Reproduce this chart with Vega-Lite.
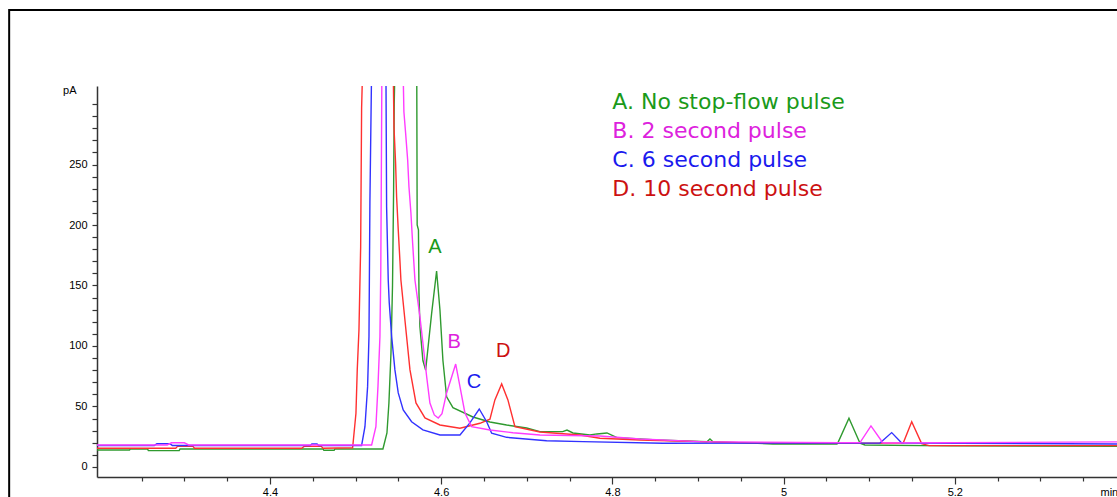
{
  "$schema": "https://vega.github.io/schema/vega-lite/v6.json",
  "width": 1020,
  "height": 391,
  "autosize": {"type": "none"},
  "padding": {"left": 97, "top": 86, "right": 0, "bottom": 20},
  "background": "white",
  "config": {"view": {"stroke": null}},
  "datasets": {
    "traces": [
      {"series": "A", "t": 4.198, "v": 14.0}, {"series": "A", "t": 4.236, "v": 14.0}, {"series": "A", "t": 4.237, "v": 14.9}, {"series": "A", "t": 4.257, "v": 14.9}, {"series": "A", "t": 4.258, "v": 13.5}, {"series": "A", "t": 4.294, "v": 13.5}, {"series": "A", "t": 4.295, "v": 14.9}, {"series": "A", "t": 4.462, "v": 14.9}, {"series": "A", "t": 4.463, "v": 13.8}, {"series": "A", "t": 4.475, "v": 13.8}, {"series": "A", "t": 4.476, "v": 14.9}, {"series": "A", "t": 4.532, "v": 14.9}, {"series": "A", "t": 4.5367, "v": 28.1}, {"series": "A", "t": 4.539, "v": 52.9}, {"series": "A", "t": 4.5414, "v": 94}, {"series": "A", "t": 4.5432, "v": 150}, {"series": "A", "t": 4.5445, "v": 230}, {"series": "A", "t": 4.5452, "v": 300}, {"series": "A", "t": 4.546, "v": 330}, {"series": "A", "t": 4.559, "v": 500}, {"series": "A", "t": 4.5715, "v": 330}, {"series": "A", "t": 4.572, "v": 200}, {"series": "A", "t": 4.5735, "v": 196}, {"series": "A", "t": 4.5741, "v": 144}, {"series": "A", "t": 4.5752, "v": 116}, {"series": "A", "t": 4.5787, "v": 88}, {"series": "A", "t": 4.5819, "v": 80}, {"series": "A", "t": 4.5889, "v": 127}, {"series": "A", "t": 4.5947, "v": 162}, {"series": "A", "t": 4.5986, "v": 130}, {"series": "A", "t": 4.6021, "v": 88}, {"series": "A", "t": 4.6064, "v": 58}, {"series": "A", "t": 4.6138, "v": 49}, {"series": "A", "t": 4.6371, "v": 41.3}, {"series": "A", "t": 4.657, "v": 37.2}, {"series": "A", "t": 4.6765, "v": 34.7}, {"series": "A", "t": 4.6999, "v": 32.2}, {"series": "A", "t": 4.7154, "v": 29.2}, {"series": "A", "t": 4.742, "v": 29.2}, {"series": "A", "t": 4.747, "v": 30.5}, {"series": "A", "t": 4.754, "v": 28.1}, {"series": "A", "t": 4.7738, "v": 26.4}, {"series": "A", "t": 4.782, "v": 27.3}, {"series": "A", "t": 4.7937, "v": 28.1}, {"series": "A", "t": 4.8054, "v": 24.2}, {"series": "A", "t": 4.8322, "v": 23.1}, {"series": "A", "t": 4.8521, "v": 22.3}, {"series": "A", "t": 4.9105, "v": 20.9}, {"series": "A", "t": 4.914, "v": 23.1}, {"series": "A", "t": 4.9175, "v": 20.9}, {"series": "A", "t": 4.9876, "v": 19}, {"series": "A", "t": 5.0624, "v": 19}, {"series": "A", "t": 5.0636, "v": 20.1}, {"series": "A", "t": 5.0764, "v": 40.2}, {"series": "A", "t": 5.0893, "v": 19.6}, {"series": "A", "t": 5.095, "v": 18.2}, {"series": "A", "t": 5.1944, "v": 17.4}, {"series": "A", "t": 5.3895, "v": 17.0},

      {"series": "D", "t": 4.198, "v": 15.5}, {"series": "D", "t": 4.29, "v": 15.5}, {"series": "D", "t": 4.292, "v": 17}, {"series": "D", "t": 4.31, "v": 17}, {"series": "D", "t": 4.312, "v": 15.5}, {"series": "D", "t": 4.437, "v": 15.5}, {"series": "D", "t": 4.44, "v": 17}, {"series": "D", "t": 4.46, "v": 17}, {"series": "D", "t": 4.462, "v": 15.5}, {"series": "D", "t": 4.4966, "v": 15.9}, {"series": "D", "t": 4.5005, "v": 44.4}, {"series": "D", "t": 4.502, "v": 80.2}, {"series": "D", "t": 4.504, "v": 113.2}, {"series": "D", "t": 4.506, "v": 182.1}, {"series": "D", "t": 4.5071, "v": 296.7}, {"series": "D", "t": 4.5083, "v": 330}, {"series": "D", "t": 4.526, "v": 500}, {"series": "D", "t": 4.544, "v": 330}, {"series": "D", "t": 4.5449, "v": 281}, {"series": "D", "t": 4.5468, "v": 251}, {"series": "D", "t": 4.548, "v": 223}, {"series": "D", "t": 4.5499, "v": 196}, {"series": "D", "t": 4.5519, "v": 170}, {"series": "D", "t": 4.553, "v": 154.5}, {"series": "D", "t": 4.5557, "v": 135.5}, {"series": "D", "t": 4.5597, "v": 107.4}, {"series": "D", "t": 4.5636, "v": 80.2}, {"series": "D", "t": 4.5706, "v": 52.9}, {"series": "D", "t": 4.5811, "v": 40.5}, {"series": "D", "t": 4.5986, "v": 34.7}, {"series": "D", "t": 4.622, "v": 32}, {"series": "D", "t": 4.6453, "v": 36.1}, {"series": "D", "t": 4.657, "v": 39.5}, {"series": "D", "t": 4.6628, "v": 55.4}, {"series": "D", "t": 4.6707, "v": 68.6}, {"series": "D", "t": 4.678, "v": 55.4}, {"series": "D", "t": 4.6862, "v": 33.3}, {"series": "D", "t": 4.7154, "v": 28.9}, {"series": "D", "t": 4.7621, "v": 26.4}, {"series": "D", "t": 4.7855, "v": 23.7}, {"series": "D", "t": 4.8322, "v": 22.3}, {"series": "D", "t": 4.9105, "v": 20.7}, {"series": "D", "t": 4.9607, "v": 19.8}, {"series": "D", "t": 5.0659, "v": 19.6}, {"series": "D", "t": 5.1398, "v": 19.8}, {"series": "D", "t": 5.1497, "v": 37.4}, {"series": "D", "t": 5.1613, "v": 19.3}, {"series": "D", "t": 5.17, "v": 17.6}, {"series": "D", "t": 5.3895, "v": 17.6},

      {"series": "C", "t": 4.198, "v": 17.8}, {"series": "C", "t": 4.265, "v": 17.8}, {"series": "C", "t": 4.268, "v": 19.2}, {"series": "C", "t": 4.283, "v": 19.2}, {"series": "C", "t": 4.286, "v": 17.8}, {"series": "C", "t": 4.447, "v": 17.8}, {"series": "C", "t": 4.449, "v": 19}, {"series": "C", "t": 4.455, "v": 19}, {"series": "C", "t": 4.457, "v": 17.8}, {"series": "C", "t": 4.5071, "v": 17.8}, {"series": "C", "t": 4.511, "v": 33.3}, {"series": "C", "t": 4.5141, "v": 66.4}, {"series": "C", "t": 4.5157, "v": 107.7}, {"series": "C", "t": 4.5168, "v": 219}, {"series": "C", "t": 4.5188, "v": 330}, {"series": "C", "t": 4.527, "v": 500}, {"series": "C", "t": 4.5355, "v": 330}, {"series": "C", "t": 4.5363, "v": 215}, {"series": "C", "t": 4.5382, "v": 154.5}, {"series": "C", "t": 4.5394, "v": 135.5}, {"series": "C", "t": 4.5422, "v": 107.7}, {"series": "C", "t": 4.546, "v": 80.2}, {"series": "C", "t": 4.5499, "v": 61.2}, {"series": "C", "t": 4.5557, "v": 47.1}, {"series": "C", "t": 4.5655, "v": 37.4}, {"series": "C", "t": 4.5787, "v": 30.6}, {"series": "C", "t": 4.5986, "v": 26.4}, {"series": "C", "t": 4.622, "v": 26.4}, {"series": "C", "t": 4.6336, "v": 36.4}, {"series": "C", "t": 4.6445, "v": 47.9}, {"series": "C", "t": 4.6532, "v": 37.4}, {"series": "C", "t": 4.659, "v": 27.9}, {"series": "C", "t": 4.6765, "v": 24.5}, {"series": "C", "t": 4.7232, "v": 21.7}, {"series": "C", "t": 4.7657, "v": 20.9}, {"series": "C", "t": 4.8591, "v": 19.6}, {"series": "C", "t": 5.1126, "v": 19.8}, {"series": "C", "t": 5.1263, "v": 28.4}, {"series": "C", "t": 5.138, "v": 19.8}, {"series": "C", "t": 5.3895, "v": 19.0},

      {"series": "B", "t": 4.198, "v": 18.2}, {"series": "B", "t": 4.28, "v": 18.2}, {"series": "B", "t": 4.285, "v": 20}, {"series": "B", "t": 4.3, "v": 20}, {"series": "B", "t": 4.305, "v": 18.2}, {"series": "B", "t": 4.5188, "v": 18.2}, {"series": "B", "t": 4.5238, "v": 33.3}, {"series": "B", "t": 4.5262, "v": 66.4}, {"series": "B", "t": 4.5285, "v": 107.7}, {"series": "B", "t": 4.5295, "v": 163}, {"series": "B", "t": 4.53, "v": 223}, {"series": "B", "t": 4.5308, "v": 330}, {"series": "B", "t": 4.543, "v": 500}, {"series": "B", "t": 4.5555, "v": 330}, {"series": "B", "t": 4.5565, "v": 293.6}, {"series": "B", "t": 4.5585, "v": 276}, {"series": "B", "t": 4.5609, "v": 253.7}, {"series": "B", "t": 4.5624, "v": 231.6}, {"series": "B", "t": 4.5647, "v": 209.9}, {"series": "B", "t": 4.5667, "v": 185.1}, {"series": "B", "t": 4.5694, "v": 154.5}, {"series": "B", "t": 4.5752, "v": 124.2}, {"series": "B", "t": 4.5787, "v": 102.5}, {"series": "B", "t": 4.5831, "v": 74.6}, {"series": "B", "t": 4.5869, "v": 52.9}, {"series": "B", "t": 4.592, "v": 43}, {"series": "B", "t": 4.5966, "v": 40.5}, {"series": "B", "t": 4.601, "v": 44}, {"series": "B", "t": 4.6064, "v": 61.2}, {"series": "B", "t": 4.617, "v": 85.1}, {"series": "B", "t": 4.622, "v": 66.4}, {"series": "B", "t": 4.6278, "v": 44.6}, {"series": "B", "t": 4.6356, "v": 33.3}, {"series": "B", "t": 4.657, "v": 30.6}, {"series": "B", "t": 4.6839, "v": 28.3}, {"series": "B", "t": 4.7154, "v": 26.4}, {"series": "B", "t": 4.7855, "v": 25.6}, {"series": "B", "t": 4.8322, "v": 23.1}, {"series": "B", "t": 4.9023, "v": 20.9}, {"series": "B", "t": 5.0659, "v": 20.1}, {"series": "B", "t": 5.0893, "v": 20.1}, {"series": "B", "t": 5.1021, "v": 33.9}, {"series": "B", "t": 5.1161, "v": 19.8}, {"series": "B", "t": 5.3895, "v": 20.7}
    ],
    "peaks": [
      {"series": "A", "label": "A", "t": 4.5928, "v": 177.1},
      {"series": "B", "label": "B", "t": 4.6153, "v": 98.1},
      {"series": "C", "label": "C", "t": 4.6383, "v": 65},
      {"series": "D", "label": "D", "t": 4.6726, "v": 91.2}
    ],
    "legend": [
      {"series": "A", "label": "A. No stop-flow pulse", "t": 4.8, "v": 296.3},
      {"series": "B", "label": "B. 2 second pulse", "t": 4.8, "v": 271.6},
      {"series": "C", "label": "C. 6 second pulse", "t": 4.8, "v": 247.7},
      {"series": "D", "label": "D. 10 second pulse", "t": 4.8, "v": 224}
    ]
  },
  "layer": [
    {
      "data": {"name": "traces"},
      "mark": {"type": "line", "strokeWidth": 1.4, "clip": true, "interpolate": "linear"},
      "encoding": {
        "x": {
          "field": "t", "type": "quantitative", "title": "min",
          "scale": {"domain": [4.198, 5.3895], "nice": false, "zero": false},
          "axis": {
            "values": [4.25, 4.3, 4.35, 4.4, 4.45, 4.5, 4.55, 4.6, 4.65, 4.7, 4.75, 4.8, 4.85, 4.9, 4.95, 5, 5.05, 5.1, 5.15, 5.2, 5.25, 5.3, 5.35],
            "labelExpr": "indexof([4.4, 4.6, 4.8, 5, 5.2], datum.value) >= 0 ? format(datum.value, '~g') : ''",
            "tickSize": {"condition": {"test": "indexof([4.4, 4.6, 4.8, 5, 5.2], datum.value) >= 0", "value": 7}, "value": 4},
            "grid": false, "labelOverlap": false, "labelFlush": false,
            "domainColor": "#333333", "domainWidth": 1.5, "tickColor": "#333333", "tickWidth": 1.2,
            "labelFont": "Liberation Sans", "labelFontSize": 11, "labelColor": "#000000", "labelPadding": 2,
            "titleX": 1003, "titleY": 15, "titleAlign": "left", "titleBaseline": "middle",
            "titleFont": "Liberation Sans", "titleFontSize": 11, "titleFontWeight": "normal", "titleColor": "#000000"
          }
        },
        "y": {
          "field": "v", "type": "quantitative", "title": "pA",
          "scale": {"domain": [-8.3, 314.9], "nice": false, "zero": false},
          "axis": {
            "values": [0, 10, 20, 30, 40, 50, 60, 70, 80, 90, 100, 110, 120, 130, 140, 150, 160, 170, 180, 190, 200, 210, 220, 230, 240, 250, 260, 270, 280, 290, 300],
            "labelExpr": "(datum.value % 50 == 0 && datum.value <= 250) ? datum.label : ''",
            "grid": false, "labelOverlap": false, "labelFlush": false, "tickSize": 5,
            "domainColor": "#333333", "domainWidth": 1.5, "tickColor": "#333333", "tickWidth": 1.2,
            "labelFont": "Liberation Sans", "labelFontSize": 11, "labelColor": "#000000", "labelPadding": 5,
            "titleAngle": 0, "titleAlign": "right", "titleBaseline": "middle", "titleX": -21, "titleY": 4,
            "titleFont": "Liberation Sans", "titleFontSize": 11, "titleFontWeight": "normal", "titleColor": "#000000"
          }
        },
        "color": {
          "field": "series", "type": "nominal",
          "scale": {"domain": ["A", "D", "C", "B"], "range": ["#2f9a2f", "#ff3030", "#3232ff", "#ff3cff"]},
          "legend": null
        }
      }
    },
    {
      "data": {"name": "peaks"},
      "mark": {"type": "text", "font": "Liberation Sans", "fontSize": 20, "align": "center", "baseline": "alphabetic"},
      "encoding": {
        "x": {
          "field": "t", "type": "quantitative", "title": "min",
          "axis": {
            "values": [4.25, 4.3, 4.35, 4.4, 4.45, 4.5, 4.55, 4.6, 4.65, 4.7, 4.75, 4.8, 4.85, 4.9, 4.95, 5, 5.05, 5.1, 5.15, 5.2, 5.25, 5.3, 5.35],
            "labelExpr": "indexof([4.4, 4.6, 4.8, 5, 5.2], datum.value) >= 0 ? format(datum.value, '~g') : ''",
            "tickSize": {"condition": {"test": "indexof([4.4, 4.6, 4.8, 5, 5.2], datum.value) >= 0", "value": 7}, "value": 4},
            "grid": false, "labelOverlap": false, "labelFlush": false,
            "domainColor": "#333333", "domainWidth": 1.5, "tickColor": "#333333", "tickWidth": 1.2,
            "labelFont": "Liberation Sans", "labelFontSize": 11, "labelColor": "#000000", "labelPadding": 2,
            "titleX": 1003, "titleY": 15, "titleAlign": "left", "titleBaseline": "middle",
            "titleFont": "Liberation Sans", "titleFontSize": 11, "titleFontWeight": "normal", "titleColor": "#000000"
          }
        },
        "y": {
          "field": "v", "type": "quantitative", "title": "pA",
          "axis": {
            "values": [0, 10, 20, 30, 40, 50, 60, 70, 80, 90, 100, 110, 120, 130, 140, 150, 160, 170, 180, 190, 200, 210, 220, 230, 240, 250, 260, 270, 280, 290, 300],
            "labelExpr": "(datum.value % 50 == 0 && datum.value <= 250) ? datum.label : ''",
            "grid": false, "labelOverlap": false, "labelFlush": false, "tickSize": 5,
            "domainColor": "#333333", "domainWidth": 1.5, "tickColor": "#333333", "tickWidth": 1.2,
            "labelFont": "Liberation Sans", "labelFontSize": 11, "labelColor": "#000000", "labelPadding": 5,
            "titleAngle": 0, "titleAlign": "right", "titleBaseline": "middle", "titleX": -21, "titleY": 4,
            "titleFont": "Liberation Sans", "titleFontSize": 11, "titleFontWeight": "normal", "titleColor": "#000000"
          }
        },
        "text": {"field": "label"},
        "color": {
          "field": "series", "type": "nominal",
          "scale": {"domain": ["A", "B", "C", "D"], "range": ["#1a9a1a", "#dd22dd", "#1a1aee", "#cc1111"]},
          "legend": null
        }
      }
    },
    {
      "data": {"name": "legend"},
      "mark": {"type": "text", "font": "DejaVu Sans", "fontSize": 22, "align": "left", "baseline": "alphabetic"},
      "encoding": {
        "x": {
          "field": "t", "type": "quantitative", "title": "min",
          "axis": {
            "values": [4.25, 4.3, 4.35, 4.4, 4.45, 4.5, 4.55, 4.6, 4.65, 4.7, 4.75, 4.8, 4.85, 4.9, 4.95, 5, 5.05, 5.1, 5.15, 5.2, 5.25, 5.3, 5.35],
            "labelExpr": "indexof([4.4, 4.6, 4.8, 5, 5.2], datum.value) >= 0 ? format(datum.value, '~g') : ''",
            "tickSize": {"condition": {"test": "indexof([4.4, 4.6, 4.8, 5, 5.2], datum.value) >= 0", "value": 7}, "value": 4},
            "grid": false, "labelOverlap": false, "labelFlush": false,
            "domainColor": "#333333", "domainWidth": 1.5, "tickColor": "#333333", "tickWidth": 1.2,
            "labelFont": "Liberation Sans", "labelFontSize": 11, "labelColor": "#000000", "labelPadding": 2,
            "titleX": 1003, "titleY": 15, "titleAlign": "left", "titleBaseline": "middle",
            "titleFont": "Liberation Sans", "titleFontSize": 11, "titleFontWeight": "normal", "titleColor": "#000000"
          }
        },
        "y": {
          "field": "v", "type": "quantitative", "title": "pA",
          "axis": {
            "values": [0, 10, 20, 30, 40, 50, 60, 70, 80, 90, 100, 110, 120, 130, 140, 150, 160, 170, 180, 190, 200, 210, 220, 230, 240, 250, 260, 270, 280, 290, 300],
            "labelExpr": "(datum.value % 50 == 0 && datum.value <= 250) ? datum.label : ''",
            "grid": false, "labelOverlap": false, "labelFlush": false, "tickSize": 5,
            "domainColor": "#333333", "domainWidth": 1.5, "tickColor": "#333333", "tickWidth": 1.2,
            "labelFont": "Liberation Sans", "labelFontSize": 11, "labelColor": "#000000", "labelPadding": 5,
            "titleAngle": 0, "titleAlign": "right", "titleBaseline": "middle", "titleX": -21, "titleY": 4,
            "titleFont": "Liberation Sans", "titleFontSize": 11, "titleFontWeight": "normal", "titleColor": "#000000"
          }
        },
        "text": {"field": "label"},
        "color": {
          "field": "series", "type": "nominal",
          "scale": {"domain": ["A", "B", "C", "D"], "range": ["#1a9a1a", "#dd22dd", "#1a1aee", "#cc1111"]},
          "legend": null
        }
      }
    },
    {
      "data": {"values": [{}]},
      "mark": {"type": "rect", "fill": "transparent", "stroke": "#000000", "strokeWidth": 2, "clip": false},
      "encoding": {
        "x": {
          "datum": 4.0954, "type": "quantitative", "title": "min",
          "axis": {
            "values": [4.25, 4.3, 4.35, 4.4, 4.45, 4.5, 4.55, 4.6, 4.65, 4.7, 4.75, 4.8, 4.85, 4.9, 4.95, 5, 5.05, 5.1, 5.15, 5.2, 5.25, 5.3, 5.35],
            "labelExpr": "indexof([4.4, 4.6, 4.8, 5, 5.2], datum.value) >= 0 ? format(datum.value, '~g') : ''",
            "tickSize": {"condition": {"test": "indexof([4.4, 4.6, 4.8, 5, 5.2], datum.value) >= 0", "value": 7}, "value": 4},
            "grid": false, "labelOverlap": false, "labelFlush": false,
            "domainColor": "#333333", "domainWidth": 1.5, "tickColor": "#333333", "tickWidth": 1.2,
            "labelFont": "Liberation Sans", "labelFontSize": 11, "labelColor": "#000000", "labelPadding": 2,
            "titleX": 1003, "titleY": 15, "titleAlign": "left", "titleBaseline": "middle",
            "titleFont": "Liberation Sans", "titleFontSize": 11, "titleFontWeight": "normal", "titleColor": "#000000"
          }
        },
        "x2": {"datum": 5.6},
        "y": {
          "datum": 377.7, "type": "quantitative", "title": "pA",
          "axis": {
            "values": [0, 10, 20, 30, 40, 50, 60, 70, 80, 90, 100, 110, 120, 130, 140, 150, 160, 170, 180, 190, 200, 210, 220, 230, 240, 250, 260, 270, 280, 290, 300],
            "labelExpr": "(datum.value % 50 == 0 && datum.value <= 250) ? datum.label : ''",
            "grid": false, "labelOverlap": false, "labelFlush": false, "tickSize": 5,
            "domainColor": "#333333", "domainWidth": 1.5, "tickColor": "#333333", "tickWidth": 1.2,
            "labelFont": "Liberation Sans", "labelFontSize": 11, "labelColor": "#000000", "labelPadding": 5,
            "titleAngle": 0, "titleAlign": "right", "titleBaseline": "middle", "titleX": -21, "titleY": 4,
            "titleFont": "Liberation Sans", "titleFontSize": 11, "titleFontWeight": "normal", "titleColor": "#000000"
          }
        },
        "y2": {"datum": -40}
      }
    }
  ],
  "resolve": {"scale": {"color": "independent"}}
}
